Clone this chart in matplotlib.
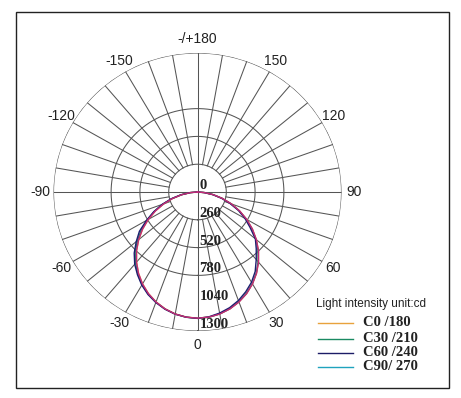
import numpy as np
import matplotlib
matplotlib.use("Agg")
import matplotlib.pyplot as plt
from matplotlib.patches import Rectangle
from matplotlib.lines import Line2D

# gamma angles (0 = straight down), degrees
angles = [-90, -85, -80, -75, -70, -65, -60, -55, -50, -45, -40, -35, -30, -25, -20, -15, -10, -5,
          0, 5, 10, 15, 20, 25, 30, 35, 40, 45, 50, 55, 60, 65, 70, 75, 80, 85, 90]

# intensity (cd)
c0_180 = [0, 62, 143, 232, 325, 420, 513, 605, 693, 778, 856, 928, 992, 1048, 1094, 1131, 1158, 1174,
          1180, 1174, 1158, 1131, 1094, 1048, 992, 928, 856, 778, 693, 605, 513, 420, 325, 232, 143, 62, 0]
c30_210 = [0, 65, 150, 240, 335, 430, 525, 620, 708, 795, 870, 938, 1000, 1052, 1097, 1133, 1160, 1176,
           1182, 1176, 1158, 1130, 1092, 1045, 990, 925, 852, 772, 688, 600, 508, 415, 322, 230, 142, 62, 0]
c60_240 = [0, 68, 152, 245, 340, 435, 532, 640, 722, 808, 882, 945, 1006, 1058, 1100, 1135, 1160, 1175,
           1182, 1172, 1150, 1120, 1080, 1030, 975, 908, 825, 750, 682, 580, 495, 408, 312, 224, 139, 60, 0]
c90_270 = [0, 63, 144, 233, 326, 420, 514, 606, 694, 779, 857, 929, 993, 1049, 1095, 1132, 1159, 1175,
           1180, 1175, 1159, 1132, 1095, 1049, 993, 929, 857, 779, 694, 606, 514, 420, 326, 233, 144, 63, 0]

series = [c0_180, c30_210, c60_240, c90_270]
legend_labels = ["C0 /180", "C30 /210", "C60 /240", "C90/ 270"]
legend_colors = ["#e8a23c", "#1a8a62", "#1c1c66", "#1fa3bd"]
curve_colors = ["#e8a23c", "#1a8a62", "#1c1c70", "#c42a78"]

ring_values = [260, 520, 780, 1300]
ring_labels = [0, 260, 520, 780, 1040, 1300]
spoke_angles = list(range(-170, 181, 10))
angle_labels = [0, 30, 60, 90, 120, 150, 180, -150, -120, -90, -60, -30]
rmax = 1300

fig = plt.figure(figsize=(4.61, 3.98), dpi=100)
ax = fig.add_axes([53.5 / 461, (398 - 331) / 398, 288 / 461, 278 / 398], projection="polar")
ax.set_aspect("auto")
ax.set_theta_zero_location("S")
ax.set_theta_direction(1)
ax.set_ylim(0, rmax)
ax.grid(False)
ax.set_xticks([])
ax.set_yticks([])
ax.spines["polar"].set_visible(False)

grid_kw = dict(color="#555555", lw=0.75, zorder=1)
t = np.linspace(0, 2 * np.pi, 400)
for rv in ring_values:
    ax.plot(t, np.full_like(t, rv), **grid_kw)
for a in spoke_angles:
    r0 = 0 if a % 90 == 0 else ring_values[0]
    ax.plot([np.deg2rad(a)] * 2, [r0, rmax], **grid_kw)

# curves
th = np.deg2rad(angles)
for vals, col in zip(series, curve_colors):
    ax.plot(th, vals, color=col, lw=1.0, zorder=3)

# angle labels
for a in angle_labels:
    txt = "-/+180" if a == 180 else str(a)
    rr = 1.1 if a in (0, 180) else 1.09
    ax.text(np.deg2rad(a), rr * rmax, txt, ha="center", va="center",
            fontsize=10, family="Liberation Sans", color="#222222")

# radial labels
for v in ring_labels:
    ax.annotate(str(v), xy=(0, v), xytext=(1.5, 0), textcoords="offset points",
                ha="left", va="bottom", fontsize=10.5, family="Liberation Serif",
                fontweight="bold", color="#222222", zorder=4)

# legend drawn by hand
W, H = 461, 398
fig.text(316 / W, 1 - 304 / H, "Light intensity unit:cd", ha="left", va="center",
         fontsize=8.5, family="Liberation Sans", color="#222222")
ys = [323, 339, 353, 367]
for y, lab, col in zip(ys, legend_labels, legend_colors):
    fig.add_artist(Line2D([318 / W, 353 / W], [1 - y / H] * 2, color=col, lw=1.0))
    fig.text(363 / W, 1 - y / H, lab, ha="left", va="center", fontsize=10.5,
             family="Liberation Serif", fontweight="bold", color="#222222")

# outer frame
fig.add_artist(Rectangle((16 / W, 1 - 388 / H), (449 - 16) / W, (388 - 12) / H,
                         transform=fig.transFigure, fill=False, edgecolor="#222222", lw=1.0))

fig.savefig("out.png", dpi=100)
